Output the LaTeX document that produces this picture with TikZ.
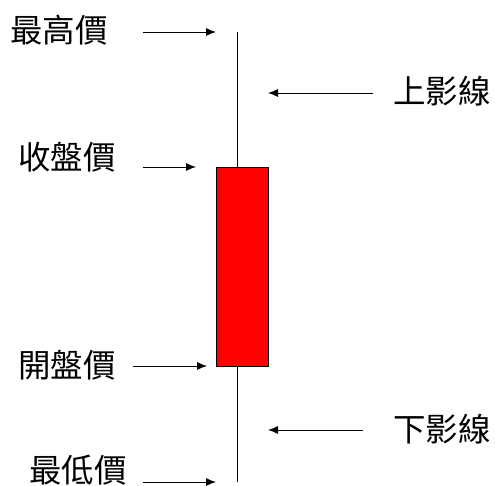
\documentclass[tikz,border=0pt]{standalone}
\usepackage{fontspec}
\newfontfamily\cjk{Noto Sans CJK TC}
\usetikzlibrary{arrows.meta}
\begin{document}
\begin{tikzpicture}[x=1pt,y=-1pt,
  lbl/.style={font=\cjk\fontsize{32.5}{32.5}\selectfont, inner sep=0pt, anchor=center},
  arr/.style={-{Latex[length=10pt,width=8pt]}, line width=0.9pt, black},
  wick/.style={line width=0.9pt, black},
  body/.style={draw=black, line width=0.9pt, fill=red}]
\useasboundingbox (0,0) rectangle (495,486);
\fill[white] (0,0) rectangle (495,486);
% candle
\coordinate (top) at (237,32);
\coordinate (bot) at (237,482);
\node[body, minimum width=52pt, minimum height=199pt, inner sep=0pt] (box) at (242,266.5) {};
\draw[wick] (top) -- (box.north -| top);
\draw[wick] (box.south -| bot) -- (bot);
% labels
\node[lbl] (hi) at (59,30) {最高價};
\node[lbl] (cl) at (67,157) {收盤價};
\node[lbl] (op) at (67,365) {開盤價};
\node[lbl] (lo) at (78,470) {最低價};
\node[lbl] (us) at (442,91) {上影線};
\node[lbl] (ls) at (442,429) {下影線};
% arrow endpoints
\coordinate (hiA) at (143,32);  \coordinate (hiB) at (216,32);
\coordinate (clA) at (143,167); \coordinate (clB) at (196,167);
\coordinate (opA) at (133,366); \coordinate (opB) at (207,366);
\coordinate (loA) at (143,482); \coordinate (loB) at (216,482);
\coordinate (usA) at (373,93);  \coordinate (usB) at (268,93);
\coordinate (lsA) at (363,430); \coordinate (lsB) at (268,430);
\draw[arr] (hiA) -- (hiB);
\draw[arr] (clA) -- (clB);
\draw[arr] (opA) -- (opB);
\draw[arr] (loA) -- (loB);
\draw[arr] (usA) -- (usB);
\draw[arr] (lsA) -- (lsB);
\end{tikzpicture}
\end{document}
